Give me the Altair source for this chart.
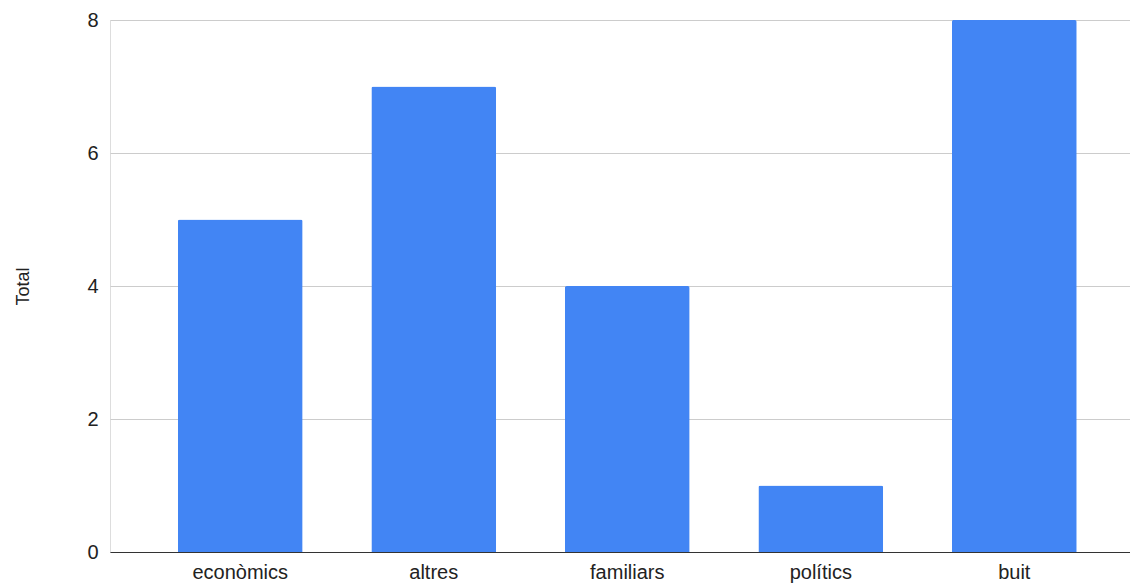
import altair as alt
import pandas as pd

categories = ["econòmics", "altres", "familiars", "polítics", "buit"]
totals = [5, 7, 4, 1, 8]

df = pd.DataFrame({"categoria": categories, "Total": totals})

font = "Liberation Sans"

chart = alt.Chart(df).mark_bar(
    color="#4285F4",
    cornerRadiusTopLeft=2,
    cornerRadiusTopRight=2,
).encode(
    x=alt.X(
        "categoria:N",
        sort=categories,
        title=None,
        scale=alt.Scale(paddingInner=0.355, paddingOuter=0.313, align=0.56),
        axis=alt.Axis(
            labelAngle=0,
            labelFontSize=20,
            labelFont=font,
            labelColor="#222222",
            labelPadding=10,
            ticks=False,
            domain=True,
            domainColor="#333333",
            domainWidth=1.2,
            grid=False,
        ),
    ),
    y=alt.Y(
        "Total:Q",
        title="Total",
        scale=alt.Scale(domain=[0, 8], nice=False),
        axis=alt.Axis(
            values=[0, 2, 4, 6, 8],
            labelFontSize=20,
            labelFont=font,
            labelColor="#222222",
            labelPadding=12,
            ticks=False,
            domain=False,
            grid=True,
            gridColor="#cccccc",
            gridWidth=1,
            titleFont=font,
            titleFontSize=18,
            titleFontWeight="normal",
            titleColor="#222222",
            titlePadding=54,
        ),
    ),
).properties(
    width=1020,
    height=532,
    autosize=alt.AutoSizeParams(type="none"),
    padding={"left": 102, "top": 12, "right": 0, "bottom": 34},
).configure_view(
    stroke=None
).configure(
    background="white"
)

chart.save("out.html", embed_options={"renderer": "svg", "actions": False})
